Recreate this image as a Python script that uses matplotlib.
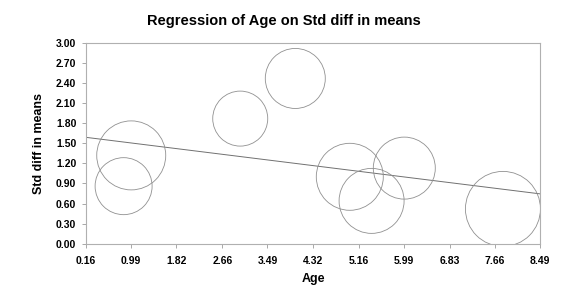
import matplotlib
matplotlib.use("Agg")
import matplotlib.pyplot as plt

# study-level values
age = [0.85, 0.99, 2.99, 4.00, 5.00, 5.40, 6.00, 7.81]
std_diff = [0.86, 1.32, 1.87, 2.47, 1.00, 0.64, 1.13, 0.52]
radius_px = [28.5, 34.5, 27.5, 30.0, 33.5, 32.5, 31.0, 37.5]

# fitted regression line
intercept = 1.606
slope = -0.1014

x_ticks = [0.16, 0.99, 1.82, 2.66, 3.49, 4.32, 5.16, 5.99, 6.83, 7.66, 8.49]
y_ticks = [0.00, 0.30, 0.60, 0.90, 1.20, 1.50, 1.80, 2.10, 2.40, 2.70, 3.00]

plt.rcParams['font.family'] = ['Liberation Sans', 'DejaVu Sans']

fig = plt.figure(figsize=(5.69, 2.87), dpi=100)
ax = fig.add_axes([86 / 569, 1 - 243.7 / 287, 454 / 569, 200.7 / 287])

# marker size in points^2 from pixel radius (dpi 100)
sizes = [(2 * r * 0.72) ** 2 for r in radius_px]
ax.scatter(age, std_diff, s=sizes, facecolors='none', edgecolors='#909090',
           linewidths=0.6, zorder=3)

x0, x1 = x_ticks[0], x_ticks[-1]
ax.plot([x0, x1], [intercept + slope * x0, intercept + slope * x1],
        color='#707070', linewidth=0.7, zorder=2)

ax.set_xlim(x0, x1)
ax.set_ylim(y_ticks[0], y_ticks[-1])
ax.set_xticks(x_ticks)
ax.set_xticklabels(['%.2f' % v for v in x_ticks])
ax.set_yticks(y_ticks)
ax.set_yticklabels(['%.2f' % v for v in y_ticks])
ax.tick_params(labelsize=7.5, length=3, width=0.6, color='#9a9a9a', pad=4)
for lab in ax.get_xticklabels() + ax.get_yticklabels():
    lab.set_fontweight('bold')
ax.tick_params(axis='x', pad=6)
for sp in ax.spines.values():
    sp.set_color('#b0b0b0')
    sp.set_linewidth(0.8)

ax.set_xlabel('Age', fontsize=9, fontweight='bold', labelpad=5)
ax.set_ylabel('Std diff in means', fontsize=9, fontweight='bold', labelpad=8)
fig.text(284 / 569, 1 - 21 / 287, 'Regression of Age on Std diff in means',
         ha='center', va='center', fontsize=10.5, fontweight='bold')

fig.savefig('out.png', dpi=100)
